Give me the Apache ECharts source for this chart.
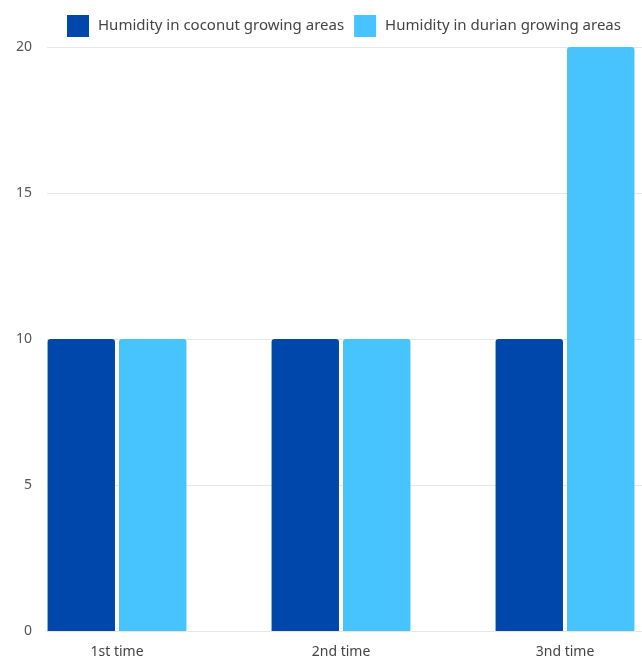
<!DOCTYPE html>
<html>
<head>
<meta charset="utf-8">
<script src="https://cdn.jsdelivr.net/npm/echarts@6/dist/echarts.min.js"></script>
<style>
  html, body { margin: 0; padding: 0; background: #fff; }
  #chart { width: 642px; height: 663px; }
</style>
</head>
<body>
<div id="chart"></div>
<script>
// Humidity readings per measurement round
const categories = ['1st time', '2nd time', '3nd time'];
const coconutHumidity = [10, 10, 10];
const durianHumidity = [10, 10, 20];
const seriesNames = ['Humidity in coconut growing areas', 'Humidity in durian growing areas'];
const yTicks = [0, 5, 10, 15, 20];

const font = '"Noto Sans", "Open Sans", sans-serif';
const chart = echarts.init(document.getElementById('chart'));

const yMin = yTicks[0];
const yMax = yTicks[yTicks.length - 1];
const yStep = yTicks[1] - yTicks[0];

chart.setOption({
  animation: false,
  legend: {
    data: seriesNames,
    left: 62,
    top: 10,
    itemWidth: 22,
    itemHeight: 22,
    itemGap: 10,
    icon: 'rect',
    textStyle: { fontFamily: font, fontSize: 15, color: '#444', padding: [0, 0, 0, 4] }
  },
  grid: [
    // value axis with gridlines
    { left: 47, right: 0, top: 47, bottom: 32, outerBoundsMode: 'none' },
    // bars, category bands run past the right edge
    { left: 5, width: 672, top: 47, bottom: 32, outerBoundsMode: 'none' }
  ],
  xAxis: [
    { gridIndex: 0, type: 'category', data: categories, show: false },
    {
      gridIndex: 1,
      type: 'category',
      data: categories,
      axisLine: { show: false },
      axisTick: { show: false },
      axisLabel: { fontFamily: font, fontSize: 14, color: '#444', margin: 14 }
    }
  ],
  yAxis: [
    {
      gridIndex: 0,
      type: 'value',
      min: yMin,
      max: yMax,
      interval: yStep,
      axisLine: { show: false },
      axisTick: { show: false },
      axisLabel: { fontFamily: font, fontSize: 14, color: '#555', margin: 15 },
      splitLine: { lineStyle: { color: '#e6e6e6', width: 1 } }
    },
    {
      gridIndex: 1,
      type: 'value',
      min: yMin,
      max: yMax,
      interval: yStep,
      show: false,
      splitLine: { show: false }
    }
  ],
  series: [
    {
      name: seriesNames[0],
      type: 'bar',
      xAxisIndex: 1,
      yAxisIndex: 1,
      data: coconutHumidity,
      barGap: '6%',
      barCategoryGap: '38%',
      itemStyle: { color: '#0047ab', borderRadius: [3, 3, 0, 0] }
    },
    {
      name: seriesNames[1],
      type: 'bar',
      xAxisIndex: 1,
      yAxisIndex: 1,
      data: durianHumidity,
      barGap: '6%',
      barCategoryGap: '38%',
      itemStyle: { color: '#47c3fd', borderRadius: [3, 3, 0, 0] }
    }
  ]
});
</script>
</body>
</html>
